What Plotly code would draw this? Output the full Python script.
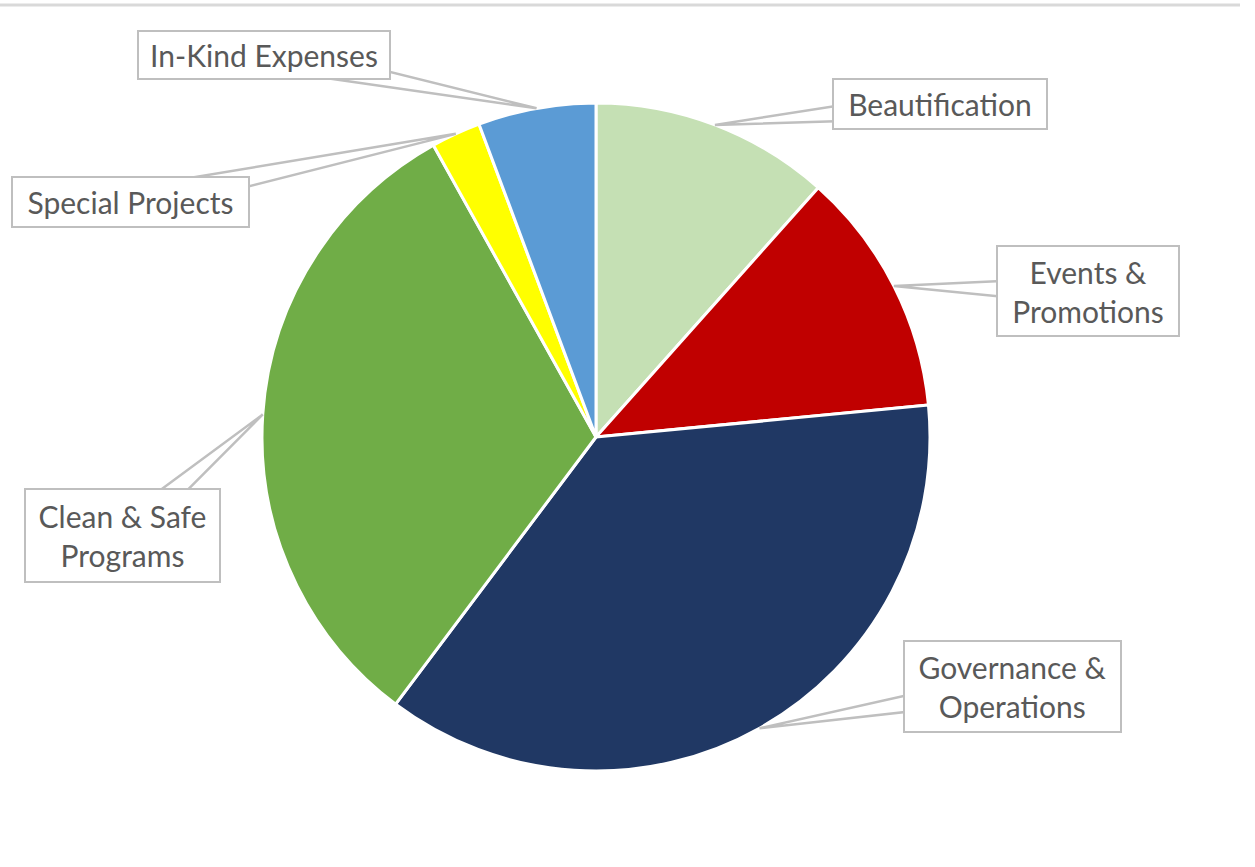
import math
import plotly.graph_objects as go

# ---- data ----
categories = ["Beautification", "Events & Promotions", "Governance & Operations",
              "Clean & Safe Programs", "Special Projects", "In-Kind Expenses"]
shares = [11.6, 11.9, 36.8, 31.7, 2.4, 5.7]
label_text = ["Beautification", "Events &<br>Promotions", "Governance &<br>Operations",
              "Clean & Safe<br>Programs", "Special Projects", "In-Kind Expenses"]
colors = ["#C5E0B4", "#C00000", "#203864", "#70AD47", "#FFFF00", "#5B9BD5"]

# ---- layout (pixels) ----
W, H = 1255, 867
CX, CY, R = 596, 437, 334
# label box centre (x, y) and size (w, h)
label_boxes = [
    (940, 104, 216, 52),
    (1088, 291, 184, 92),
    (1012, 686, 219, 93),
    (123, 535, 197, 95),
    (130, 202, 239, 52),
    (264, 55, 254, 50),
]

def px(x):
    return x / W

def py(y):
    return 1 - y / H

fig = go.Figure(go.Pie(
    labels=categories, values=shares, sort=False, direction="clockwise", rotation=0,
    marker=dict(colors=colors, line=dict(color="white", width=3)),
    textinfo="none", hoverinfo="label+percent", showlegend=False,
    domain=dict(x=[px(CX - R), px(CX + R)], y=[py(CY + R), py(CY - R)]),
))

shapes = [dict(type="line", xref="paper", yref="paper", x0=0, x1=px(1240), y0=py(5), y1=py(5),
               line=dict(color="#D9D9D9", width=3))]
annotations = []
total = sum(shares)
cum = 0
for i, v in enumerate(shares):
    mid = (cum + v / 2) / total * 2 * math.pi
    cum += v
    tx = CX + R * math.sin(mid)
    ty = CY - R * math.cos(mid)
    bx, by, bw, bh = label_boxes[i]
    dx, dy = tx - bx, ty - by
    L = math.hypot(dx, dy)
    nx, ny = -dy / L, dx / L
    hw = 14
    p1 = (bx + nx * hw, by + ny * hw)
    p2 = (bx - nx * hw, by - ny * hw)
    path = "M {} {} L {} {} L {} {} Z".format(px(p1[0]), py(p1[1]), px(tx), py(ty), px(p2[0]), py(p2[1]))
    shapes.append(dict(type="path", xref="paper", yref="paper", path=path,
                       fillcolor="white", line=dict(color="#BFBFBF", width=2.5), layer="above"))
    annotations.append(dict(
        x=px(bx), y=py(by), xref="paper", yref="paper", xanchor="center", yanchor="middle",
        text=label_text[i], showarrow=False, align="center",
        font=dict(family="Lato", size=30, color="#595959"),
        bgcolor="white", bordercolor="#BFBFBF", borderwidth=2, borderpad=0,
        width=bw - 4, height=bh - 4,
    ))

fig.update_layout(
    width=W, height=H, margin=dict(l=0, r=0, t=0, b=0),
    paper_bgcolor="white", plot_bgcolor="white",
    shapes=shapes, annotations=annotations,
)
fig.write_html("out.html")
